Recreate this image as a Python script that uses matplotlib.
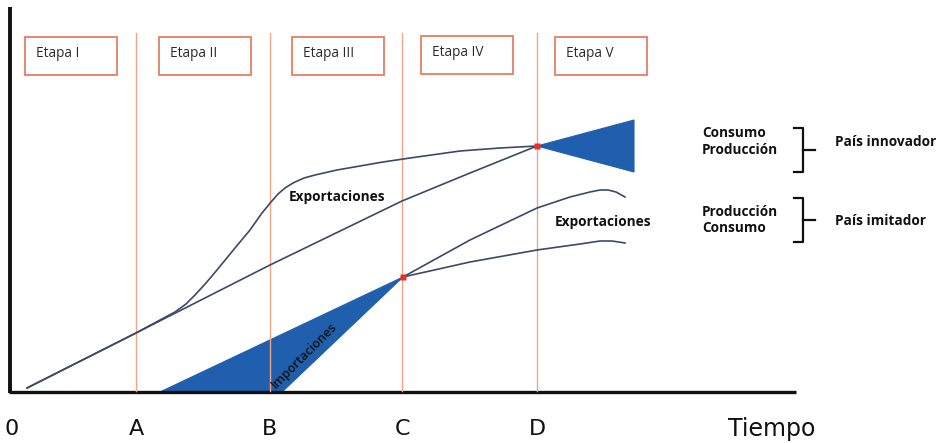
import matplotlib
matplotlib.use("Agg")
import matplotlib.pyplot as plt
from matplotlib.patches import Rectangle, Polygon

# ---- data (chart units: x to the right, y downward, like the image) ----
period_labels = ["0", "A", "B", "C", "D"]
period_x = [12, 136, 270, 402, 537]
stage_labels = ["Etapa I", "Etapa II", "Etapa III", "Etapa IV", "Etapa V"]
stage_box_x = [25, 159, 292, 421, 555]

innov_prod_x = [27, 136, 270, 402, 470, 537]
innov_prod_y = [388, 333, 265, 201, 173, 146]

innov_cons_x = [27, 136, 160, 175, 186, 195, 206, 217, 235, 250, 262, 271, 278, 285,
                293, 304, 315, 337, 360, 383, 410, 460, 500, 537]
innov_cons_y = [388, 333, 320, 312, 304, 295, 283, 270, 248, 230, 213, 202, 194, 188,
                183, 178, 175, 170, 166, 162, 158, 151, 148, 146]

imit_prod_x = [403, 470, 537, 570, 590, 600, 608, 616, 625]
imit_prod_y = [277, 240, 208, 197, 192, 190, 190, 192, 197]

imit_cons_x = [403, 470, 537, 580, 600, 612, 625]
imit_cons_y = [277, 262, 250, 244, 241, 241, 243]

imports_x = [160, 282, 403]
imports_y = [392, 392, 277]

innov_export_x = [537, 634, 634]
innov_export_y = [146, 120, 172]

W, H = 944, 443
fig = plt.figure(figsize=(W / 100, H / 100), dpi=100)
ax = fig.add_axes([0, 0, 1, 1])
ax.set_xlim(0, W)
ax.set_ylim(H, 0)
ax.axis("off")

line_c = "#3b4a68"
blue = "#1f5fae"
orange = "#f2a48a"
box_c = "#e98570"
bold_font = "Open Sans"

# axes
ax.plot([10, 10], [7, 393], color="#111111", lw=2.8, solid_capstyle="butt")
ax.plot([9, 796], [392, 392], color="#111111", lw=2.4, solid_capstyle="butt")

# period vertical lines
for x in period_x[1:]:
    ax.plot([x, x], [33, 391], color=orange, lw=1.0)

# period labels
for lab, x in zip(period_labels, period_x):
    ax.text(x, 429, lab, ha="center", va="center", fontsize=16, color="#111111",
            family="DejaVu Sans")
ax.text(772, 429, "Tiempo", ha="center", va="center", fontsize=17, color="#111111",
        family="DejaVu Sans")

# stage boxes
for lab, x in zip(stage_labels, stage_box_x):
    y0 = 36 if lab == "Etapa IV" else 37
    ax.add_patch(Rectangle((x, y0), 92, 38, fill=False, edgecolor=box_c, lw=1.4))
    ax.text(x + 11, y0 + 16, lab, ha="left", va="center", fontsize=9.8,
            color="#2a2a2a", family=bold_font, weight="medium")

# wedges
ax.add_patch(Polygon(list(zip(imports_x, imports_y)), closed=True, facecolor=blue,
                     edgecolor=blue, lw=0.8))
ax.add_patch(Polygon(list(zip(innov_export_x, innov_export_y)), closed=True,
                     facecolor=blue, edgecolor=blue, lw=0.8))

# curves
for xs, ys in [(innov_prod_x, innov_prod_y), (innov_cons_x, innov_cons_y),
               (imit_prod_x, imit_prod_y), (imit_cons_x, imit_cons_y)]:
    ax.plot(xs, ys, color=line_c, lw=1.2, solid_joinstyle="round")

# red points
ax.plot([imit_prod_x[0], innov_prod_x[-1]], [imit_prod_y[0], innov_prod_y[-1]],
        "s", color="#f03020", ms=4.5, mec="none")

# labels
bold_kw = dict(fontsize=9.8, weight="bold", color="#111111", family=bold_font)
ax.text(337, 197, "Exportaciones", ha="center", va="center", **bold_kw)
ax.text(603, 222, "Exportaciones", ha="center", va="center", **bold_kw)
ax.text(304, 356, "Importaciones", ha="center", va="center", fontsize=9,
        rotation=45, color="#111111", family=bold_font, weight="semibold")

ax.text(702, 133, "Consumo", ha="left", va="center", **bold_kw)
ax.text(702, 150, "Producción", ha="left", va="center", **bold_kw)
ax.text(702, 212, "Producción", ha="left", va="center", **bold_kw)
ax.text(702, 228, "Consumo", ha="left", va="center", **bold_kw)
ax.text(835, 142, "País innovador", ha="left", va="center", **bold_kw)
ax.text(835, 221, "País imitador", ha="left", va="center", **bold_kw)

# brackets
for yc in [150, 220]:
    ax.plot([794, 803, 803, 794], [yc - 22, yc - 22, yc + 22, yc + 22],
            color="#111111", lw=1.6, solid_joinstyle="round")
    ax.plot([803, 815], [yc, yc], color="#111111", lw=1.6)

fig.savefig("out.png", dpi=100)
